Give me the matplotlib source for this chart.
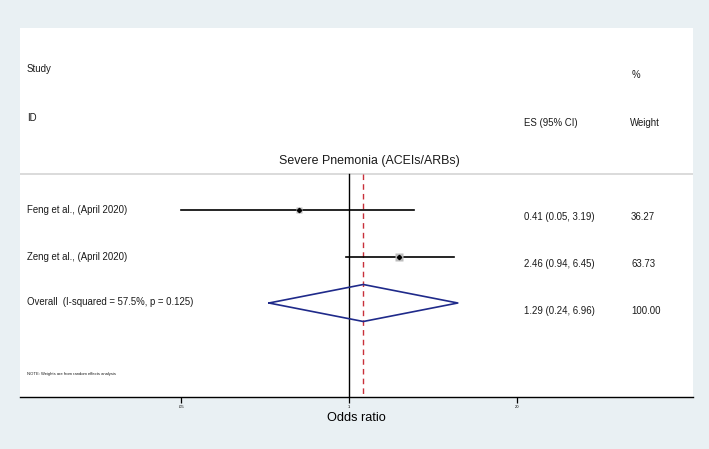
import numpy as np
import matplotlib
matplotlib.use("Agg")
import matplotlib.pyplot as plt

plt.rcParams['font.family'] = ['Liberation Sans', 'DejaVu Sans']

# ---- data ----
studies = ["Feng et al., (April 2020)", "Zeng et al., (April 2020)"]
es = [0.41, 2.46]
lo = [0.05, 0.94]
hi = [3.19, 6.45]
weights = [36.27, 63.73]
overall_label = "Overall  (I-squared = 57.5%, p = 0.125)"
overall_es, overall_lo, overall_hi, overall_w = 1.29, 0.24, 6.96, 100.00
ticks = [0.05, 1, 20]
tick_labels = [".05", "1", "20"]
title = "Severe Pnemonia (ACEIs/ARBs)"
note = "NOTE: Weights are from random effects analysis"

# ---- layout (pixel rows) ----
W, H = 709, 449
fig = plt.figure(figsize=(W/100, H/100), dpi=100, facecolor="#e9f0f3")
L, R, T, B = 20, 693, 28, 397
ax = fig.add_axes([L/W, 1-B/H, (R-L)/W, (B-T)/H])
ax.set_facecolor("white")
ax.set_xscale("log")
# x mapping: .05 at px 181, 20 at px 517
k = np.log(20/0.05)/(517-181)
x1px = 349
ax.set_xlim(np.exp((L-x1px)*k), np.exp((R-x1px)*k))
ax.set_ylim(B, T)

for s in ["top", "left", "right"]:
    ax.spines[s].set_visible(False)
ax.spines["bottom"].set_linewidth(1.0)
ax.set_yticks([])
ax.set_xticks(ticks)
ax.set_xticklabels(tick_labels, fontsize=3)
ax.xaxis.set_minor_locator(matplotlib.ticker.NullLocator())
ax.tick_params(axis="x", length=4, width=0.9, pad=2)
ax.set_xlabel("Odds ratio", fontsize=9.2, labelpad=2)

trans = ax.get_yaxis_transform()  # x axes frac, y data
def fx(px):
    return (px-L)/(R-L)
xcol_es = fx(524)
xcol_w = fx(631)
xcol_lab = fx(27)

tc = "#1a1a1a"
fs = 6.9
ax.text(xcol_lab, 69, "Study", transform=trans, fontsize=fs, va="center", color=tc)
ax.text(xcol_lab, 118, "ID", transform=trans, fontsize=fs, va="center", color=tc)
ax.text(fx(632), 75, "%", transform=trans, fontsize=fs, va="center", color=tc)
ax.text(xcol_es, 123, "ES (95% CI)", transform=trans, fontsize=fs, va="center", color=tc)
ax.text(fx(630), 123, "Weight", transform=trans, fontsize=fs, va="center", color=tc)
ax.text(fx(369.5), 161, title, transform=trans, fontsize=8.9, va="center", ha="center", color=tc)
ax.axhline(173.5, color="#d4d4d4", lw=1.2)

# vertical lines
ax.plot([1, 1], [174, B], color="black", lw=1.0)
ax.plot([overall_es]*2, [174, B], color="#c8303a", lw=1.0, ls=(0, (4, 3)))

rows_y = [210, 257]
for i, (name, e, l, h, w) in enumerate(zip(studies, es, lo, hi, weights)):
    y = rows_y[i]
    ax.plot([l, h], [y, y], color="black", lw=1.2, zorder=3)
    ax.plot([e], [y], marker="s", ms=2.2*np.sqrt(w/10), color="#bdbdbd", mec="none", zorder=4)
    ax.plot([e], [y], marker="D", ms=2.2, color="black", zorder=5)
    ax.text(xcol_lab, y, name, transform=trans, fontsize=fs, va="center", color=tc)
    ax.text(xcol_es, y+7, f"{e:.2f} ({l:.2f}, {h:.2f})", transform=trans, fontsize=fs, va="center", color=tc)
    ax.text(xcol_w, y+7, f"{w:.2f}", transform=trans, fontsize=fs, va="center", color=tc)

# overall diamond
yo = 303
dh = 18.5
ax.plot([overall_lo, overall_es, overall_hi, overall_es, overall_lo],
        [yo, yo-dh, yo, yo+dh, yo], color="#1f2a8a", lw=1.2, zorder=4)
ax.text(xcol_lab, yo-1, overall_label, transform=trans, fontsize=fs, va="center", color=tc)
ax.text(xcol_es, yo+8, f"{overall_es:.2f} ({overall_lo:.2f}, {overall_hi:.2f})", transform=trans, fontsize=fs, va="center", color=tc)
ax.text(xcol_w, yo+8, f"{overall_w:.2f}", transform=trans, fontsize=fs, va="center", color=tc)

ax.text(xcol_lab, 374, note, transform=trans, fontsize=3, va="center", color=tc)

fig.savefig("out.png", dpi=100, facecolor=fig.get_facecolor())
